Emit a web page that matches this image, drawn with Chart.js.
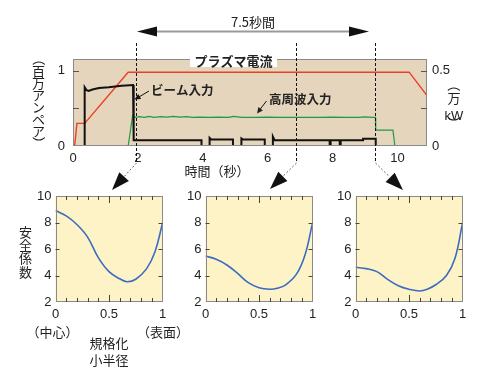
<!DOCTYPE html>
<html><head><meta charset="utf-8">
<script src="https://cdn.jsdelivr.net/npm/chart.js@4"></script>
<style>
html,body{margin:0;padding:0;background:#fff;}
body{width:482px;height:383px;position:relative;overflow:hidden;}
canvas{position:absolute;}
</style></head><body>
<canvas id="top" width="482" height="190" style="left:0;top:0"></canvas>
<canvas id="q1" width="175" height="150" style="left:0;top:180px"></canvas>
<canvas id="q2" width="175" height="150" style="left:150px;top:180px"></canvas>
<canvas id="q3" width="175" height="150" style="left:300px;top:180px"></canvas>
<canvas id="ov" width="482" height="383" style="left:0;top:0;pointer-events:none"></canvas>
<script>
// ---------- data ----------
// plasma current (million A, left axis)
const plasmaT = [0.05, 0.12, 0.36, 1.70, 10.36, 10.91];
const plasmaI = [0, 0.30, 0.30, 0.98, 0.98, 0.67];
// beam input (10^4 kW, right axis)
const beamT = [0.36,0.36,0.42,0.48,0.60,0.80,1.10,1.50,1.85,1.87,1.87,3.96,3.96,4.21,4.21,4.26,4.93,4.93,5.19,5.19,5.24,5.91,5.91,6.16,6.16,6.21,7.91,7.91,7.94,7.94,8.22,8.22,8.25,8.25,8.94,8.94,9.33,9.33];
const beamP = [0,0.39,0.37,0.365,0.375,0.385,0.39,0.40,0.405,0.405,0.038,0.038,0,0,0.054,0.043,0.043,0,0,0.05,0.043,0.043,0,0,0.062,0.04,0.038,0,0,0.038,0.038,0,0,0.038,0.038,0.048,0.048,0];
// RF input (10^4 kW, right axis)
const rfT = [1.70,1.84,1.92,2.05,2.2,2.35,2.5,2.7,2.9,3.1,3.3,3.5,3.7,3.9,4.2,4.5,4.8,4.95,5.2,5.6,6.0,6.4,6.8,7.2,7.6,8.0,8.4,8.8,9.0,9.2,9.32,9.33,9.86,9.92];
const rfP = [0,0.205,0.19,0.195,0.19,0.196,0.19,0.195,0.192,0.197,0.192,0.195,0.19,0.192,0.19,0.192,0.19,0.197,0.19,0.19,0.192,0.19,0.19,0.191,0.19,0.192,0.19,0.19,0.193,0.19,0.19,0.105,0.105,0];
const topXTicks = [0, 2, 4, 6, 8, 10];
const leftTicks = [0, 1];
const rightTicks = [0, 0.5];
const topTickMarks = [0.5, 1];
const markerTimes = [1.95, 6.87, 9.32];

// safety factor profiles
const rhoX = [0, 0.1, 0.2, 0.3, 0.4, 0.5, 0.6, 0.67, 0.75, 0.85, 0.93, 1.0];
const q1 = [8.9, 8.5, 7.85, 6.9, 5.35, 4.29, 3.75, 3.53, 3.72, 4.5, 5.8, 7.95];
const q2 = [5.47, 5.22, 4.79, 4.16, 3.46, 3.08, 2.96, 3.03, 3.3, 4.1, 5.55, 7.95];
const q3 = [4.62, 4.52, 4.29, 3.71, 3.23, 2.96, 2.83, 2.96, 3.3, 4.0, 5.3, 7.95];
const qXTicks = [0, 0.5, 1];
const qYTicks = [2, 4, 6, 8, 10];
const qMinorX = [0.1,0.2,0.3,0.4,0.6,0.7,0.8,0.9];
const qMidX = [0.5];
const qYMarks = [4, 6, 8];

// ---------- setup ----------
const NUM = '"Liberation Sans", Arial, sans-serif';
const JP = '"Noto Sans CJK JP", sans-serif';
Chart.defaults.font.family = NUM;
Chart.defaults.font.size = 13;
Chart.defaults.color = '#222';

const framePlugin = {
  id: 'frame',
  beforeDraw(chart, args, o) {
    const a = chart.chartArea, c = chart.ctx;
    c.save(); c.fillStyle = o.bg; c.fillRect(a.left, a.top, a.right - a.left, a.bottom - a.top); c.restore();
  },
  afterDatasetsDraw(chart, args, o) {
    const a = chart.chartArea, c = chart.ctx;
    c.save();
    c.strokeStyle = o.border; c.lineWidth = 1;
    c.strokeRect(Math.round(a.left) + 0.5, Math.round(a.top) + 0.5, Math.round(a.right - a.left) - 1, Math.round(a.bottom - a.top) - 1);
    c.strokeStyle = o.tickColor || '#333';
    (o.marks || []).forEach(m => {
      const s = chart.scales[m.scale];
      m.values.forEach(v => {
        const p = Math.round(s.getPixelForValue(v)) + 0.5;
        c.beginPath();
        if (m.side === 'left') { c.moveTo(a.left, p); c.lineTo(a.left + m.len, p); }
        if (m.side === 'right') { c.moveTo(a.right, p); c.lineTo(a.right - m.len, p); }
        if (m.side === 'top') { c.moveTo(p, a.top); c.lineTo(p, a.top + m.len); }
        if (m.side === 'bottom') { c.moveTo(p, a.bottom); c.lineTo(p, a.bottom - m.len); }
        c.stroke();
      });
    });
    c.restore();
  }
};
const setTicks = arr => scale => { scale.ticks = arr.map(v => ({ value: v })); };
const pts = (xs, ys) => xs.map((x, i) => ({ x: x, y: ys[i] }));
const fmt = v => String(v);
const noGrid = { display: false, drawTicks: false };

const topChart = new Chart(document.getElementById('top'), {
  type: 'line',
  data: { datasets: [
    { data: pts(beamT, beamP), yAxisID: 'y2', borderColor: '#111', borderWidth: 2, pointRadius: 0, tension: 0 },
    { data: pts(rfT, rfP), yAxisID: 'y2', borderColor: '#1f9a45', borderWidth: 1.2, pointRadius: 0, tension: 0 },
    { data: pts(plasmaT, plasmaI), yAxisID: 'y', borderColor: '#ea4020', borderWidth: 1.4, pointRadius: 0, tension: 0 }
  ]},
  options: {
    responsive: false, animation: false, events: [],
    layout: { padding: { top: 59, left: 0, right: 0, bottom: 0 } },
    plugins: { legend: { display: false }, tooltip: { enabled: false },
      frame: { bg: '#e5d5bd', border: '#8a8a8a', tickColor: '#555',
        marks: [{ scale: 'y', values: topTickMarks, side: 'left', len: 6 }, { scale: 'y', values: topTickMarks, side: 'right', len: 6 }] } },
    scales: {
      x: { type: 'linear', min: 0, max: 10.91, afterFit: s => { s.height = 44; }, afterBuildTicks: setTicks(topXTicks),
        grid: noGrid, border: { display: false }, ticks: { padding: 5, maxRotation: 0, autoSkip: false, callback: fmt } },
      y: { position: 'left', min: 0, max: 1.155, afterFit: s => { s.width = 73; }, afterBuildTicks: setTicks(leftTicks),
        grid: noGrid, border: { display: false }, ticks: { padding: 8, callback: fmt } },
      y2: { position: 'right', min: 0, max: 0.5775, afterFit: s => { s.width = 55; }, afterBuildTicks: setTicks(rightTicks),
        grid: noGrid, border: { display: false }, ticks: { padding: 5, callback: fmt } }
    }
  },
  plugins: [framePlugin]
});

function qChart(id, qs) {
  return new Chart(document.getElementById(id), {
    type: 'line',
    data: { datasets: [{ data: pts(rhoX, qs), borderColor: '#3c6cc0', borderWidth: 1.6, pointRadius: 0, tension: 0.4 }] },
    options: {
      responsive: false, animation: false, events: [],
      layout: { padding: { top: 16, left: 0, right: 12.5, bottom: 0 } },
      plugins: { legend: { display: false }, tooltip: { enabled: false },
        frame: { bg: '#fdf3c6', border: '#8a8a8a', tickColor: '#444',
          marks: [
            { scale: 'x', values: qMinorX, side: 'top', len: 4 }, { scale: 'x', values: qMinorX, side: 'bottom', len: 4 },
            { scale: 'x', values: qMidX, side: 'top', len: 7 }, { scale: 'x', values: qMidX, side: 'bottom', len: 7 },
            { scale: 'y', values: qYMarks, side: 'left', len: 4 }, { scale: 'y', values: qYMarks, side: 'right', len: 4 }
          ] } },
      scales: {
        x: { type: 'linear', min: 0, max: 1, afterFit: s => { s.height = 28; }, afterBuildTicks: setTicks(qXTicks),
          grid: noGrid, border: { display: false }, ticks: { padding: 5, maxRotation: 0, autoSkip: false, callback: fmt } },
        y: { min: 2, max: 10, afterFit: s => { s.width = 55.5; }, afterBuildTicks: setTicks(qYTicks),
          grid: noGrid, border: { display: false }, ticks: { padding: 4, callback: fmt } }
      }
    },
    plugins: [framePlugin]
  });
}
const c1 = qChart('q1', q1), c2 = qChart('q2', q2), c3 = qChart('q3', q3);

// ---------- annotations ----------
(function () {
  const c = document.getElementById('ov').getContext('2d');
  const xs = topChart.scales.x;
  function t(s, x, y, font, align) {
    c.font = font; c.textAlign = align || 'center'; c.textBaseline = 'middle'; c.fillStyle = '#222'; c.fillText(s, x, y);
  }
  function rot(s, x, y, font) {
    c.save(); c.translate(x, y); c.rotate(Math.PI / 2); t(s, 0, 0, font); c.restore();
  }
  function vt(s, x, y0, step, font) {
    Array.from(s).forEach((ch, i) => {
      if (ch === '（' || ch === '）') rot(ch, x, y0 + i * step, font); else t(ch, x, y0 + i * step, font);
    });
  }
  function head(tx, ty, fx, fy, L, W) {
    const dx = tx - fx, dy = ty - fy, d = Math.hypot(dx, dy), ux = dx / d, uy = dy / d;
    const bx = tx - ux * L, by = ty - uy * L;
    c.beginPath(); c.moveTo(tx, ty); c.lineTo(bx - uy * W, by + ux * W); c.lineTo(bx + uy * W, by - ux * W); c.closePath(); c.fill();
    return [bx, by];
  }
  c.fillStyle = '#111';
  // 7.5 s double arrow
  t('7.5秒間', 253, 22, '13px ' + JP);
  c.strokeStyle = '#9a9a9a'; c.lineWidth = 2;
  c.beginPath(); c.moveTo(152, 31.5); c.lineTo(354, 31.5); c.stroke();
  c.fillStyle = '#111';
  head(137, 31.5, 160, 31.5, 20, 5);
  head(369, 31.5, 346, 31.5, 20, 5);

  // dashed marker lines + arrows down to profiles
  const tips = [[112, 190], [270, 189], [403, 190]];
  markerTimes.forEach((tm, i) => {
    const x = Math.round(xs.getPixelForValue(tm)) + 0.5;
    c.strokeStyle = '#111'; c.lineWidth = 1; c.setLineDash([3, 2]);
    c.beginPath(); c.moveTo(x, 43); c.lineTo(x, 163); c.stroke();
    const [tx, ty] = tips[i];
    c.fillStyle = '#111';
    const b = head(tx, ty, x, 163, 18, 6.5);
    c.strokeStyle = '#666'; c.setLineDash([2, 2]);
    c.beginPath(); c.moveTo(x, 163); c.lineTo(b[0], b[1]); c.stroke();
    c.setLineDash([]);
  });

  // plasma current label box
  c.fillStyle = '#fff'; c.fillRect(190, 55, 87, 12);
  t('プラズマ電流', 233.5, 61, 'bold 13px ' + JP);
  // beam label
  t('ビーム入力', 151, 90, 'bold 12.5px ' + JP, 'left');
  c.strokeStyle = '#111'; c.lineWidth = 1;
  c.beginPath(); c.moveTo(149, 91); c.lineTo(138, 97.5); c.stroke();
  c.fillStyle = '#111'; head(134.5, 99.5, 149, 91, 6, 2.8);
  // RF label
  t('高周波入力', 269, 99.5, 'bold 12.5px ' + JP, 'left');
  c.beginPath(); c.moveTo(266.5, 101); c.lineTo(259.5, 110); c.stroke();
  head(257, 113.5, 266.5, 101, 6, 2.8);

  // axis titles top chart
  t('時間（秒）', 217, 171.5, '13px ' + JP);
  vt('（百万アンペア）', 38.5, 59, 12, '13px ' + JP);
  rot('（', 454, 85, '13px ' + JP);
  t('万', 454, 98.5, '13px ' + JP);
  t('kW', 454, 116, '13px ' + NUM);
  rot('）', 454, 123, '13px ' + JP);

  // bottom annotations
  vt('安全係数', 25.5, 231.7, 13.4, '13px ' + JP);
  t('（中心）', 52.5, 331.7, '13px ' + JP);
  t('（表面）', 163, 331.7, '13px ' + JP);
  t('規格化', 109, 343.5, '13px ' + JP);
  t('小半径', 109, 360, '13px ' + JP);
})();
</script>
</body></html>
